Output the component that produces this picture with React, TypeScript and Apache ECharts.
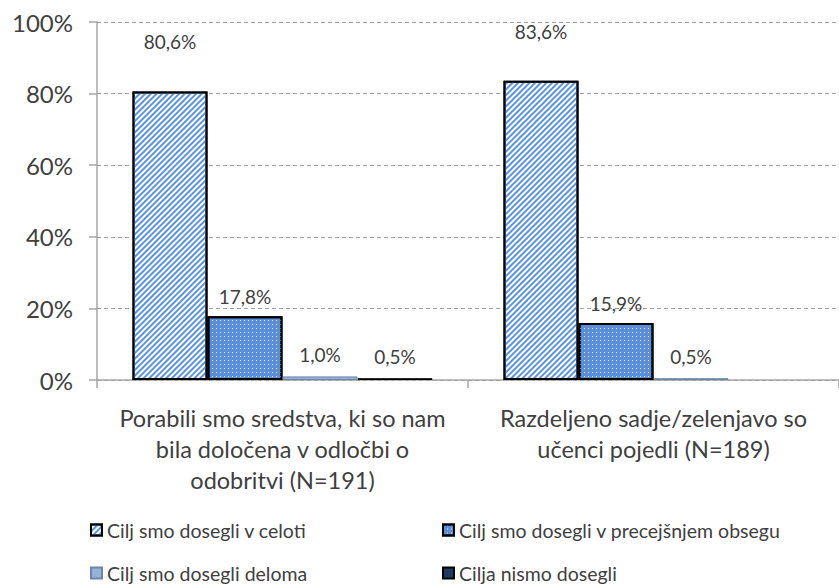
import React, { useEffect, useRef } from "react";
import * as echarts from "echarts";

const categories = [
  "Porabili smo sredstva, ki so nam\nbila določena v odločbi o\nodobritvi (N=191)",
  "Razdeljeno sadje/zelenjavo so\nučenci pojedli (N=189)",
];
const seriesNames = [
  "Cilj smo dosegli v celoti",
  "Cilj smo dosegli v precejšnjem obsegu",
  "Cilj smo dosegli deloma",
  "Cilja nismo dosegli",
];
const celoti = [80.6, 83.6];
const precej = [17.8, 15.9];
const deloma = [1.0, 0.5];
const nismo: (number | null)[] = [0.5, null];
const yTicks = [0, 20, 40, 60, 80, 100];

const FONT = "Lato, 'Open Sans', sans-serif";
const TXT = "#404040";

export default function App() {
  const ref = useRef<HTMLDivElement>(null);
  useEffect(() => {
    if (!ref.current) return;
    document.body.style.margin = "0";
    document.body.style.overflow = "hidden";
    const chart = echarts.init(ref.current, null, { renderer: "svg" });
    const fmt = (p: any) =>
      p.value == null ? "" : p.value.toFixed(1).replace(".", ",") + "%";
    const labelBase = {
      show: true,
      position: "top",
      color: TXT,
      fontFamily: FONT,
      fontSize: 19,
      formatter: fmt,
    };
    const mk = (name: string, data: any[], itemStyle: any, dist: number) => ({
      name,
      type: "bar",
      data,
      barWidth: 75,
      barGap: "0%",
      itemStyle,
      label: { ...labelBase, distance: dist },
    });
    const legendBase = {
      icon: "rect",
      itemWidth: 11,
      itemHeight: 11,
      itemGap: 5,
      padding: 0,
      textStyle: { color: TXT, fontFamily: FONT, fontSize: 19.5 },
      selectedMode: false,
    };
    chart.setOption({
      animation: false,
      backgroundColor: "#fff",
      grid: { left: 97, right: -2, top: 22, bottom: 206, containLabel: false },
      legend: [
        { ...legendBase, data: [seriesNames[0]], left: 90, top: 520 },
        { ...legendBase, data: [seriesNames[1]], left: 442, top: 520 },
        { ...legendBase, data: [seriesNames[2]], left: 90, top: 563 },
        { ...legendBase, data: [seriesNames[3]], left: 442, top: 563 },
      ],
      xAxis: {
        type: "category",
        data: categories,
        axisLine: { lineStyle: { color: "#a6a6a6", width: 1.5 } },
        axisTick: { show: true, length: 8, lineStyle: { color: "#a6a6a6", width: 1.5 } },
        axisLabel: {
          interval: 0,
          hideOverlap: false,
          color: TXT,
          fontFamily: FONT,
          fontSize: 23.5,
          lineHeight: 31,
          margin: 22,
          align: "center",
        },
      },
      yAxis: {
        type: "value",
        min: 0,
        max: 100,
        interval: 20,
        axisLine: { show: true, lineStyle: { color: "#a6a6a6", width: 1.5 } },
        axisTick: { show: true, length: 8, lineStyle: { color: "#a6a6a6", width: 1.5 } },
        splitLine: { lineStyle: { color: "#a0a0a0", type: [4, 3], width: 1 } },
        axisLabel: {
          color: TXT,
          fontFamily: FONT,
          fontSize: 24,
          margin: 24,
          formatter: (v: number) => (yTicks.includes(v) ? v + "%" : ""),
        },
      },
      series: [
        mk(
          seriesNames[0],
          celoti,
          {
            color: "#ffffff",
            borderColor: "#000",
            borderWidth: 2,
            decal: {
              color: "#5a94e0",
              symbol: "rect",
              symbolSize: 1,
              dashArrayX: [1, 0],
              dashArrayY: [2, 2],
              rotation: -Math.PI / 4,
            },
          },
          40
        ),
        mk(
          seriesNames[1],
          precej,
          {
            color: "#5b8ed8",
            borderColor: "#000",
            borderWidth: 2,
            decal: {
              color: "#e8f0fb",
              symbol: "rect",
              symbolSize: 1,
              dashArrayX: [1, 3],
              dashArrayY: [1, 3],
              rotation: 0,
            },
          },
          10
        ),
        mk(
          seriesNames[2],
          deloma,
          { color: "#95b3d7", borderColor: "#6d86a8", borderWidth: 1 },
          12
        ),
        mk(
          seriesNames[3],
          nismo,
          { color: "#1f3864", borderColor: "#000", borderWidth: 1 },
          12
        ),
      ],
    });
    return () => chart.dispose();
  }, []);
  return (
    <div
      ref={ref}
      style={{ position: "fixed", left: 0, top: 0, width: 839, height: 586 }}
    />
  );
}
